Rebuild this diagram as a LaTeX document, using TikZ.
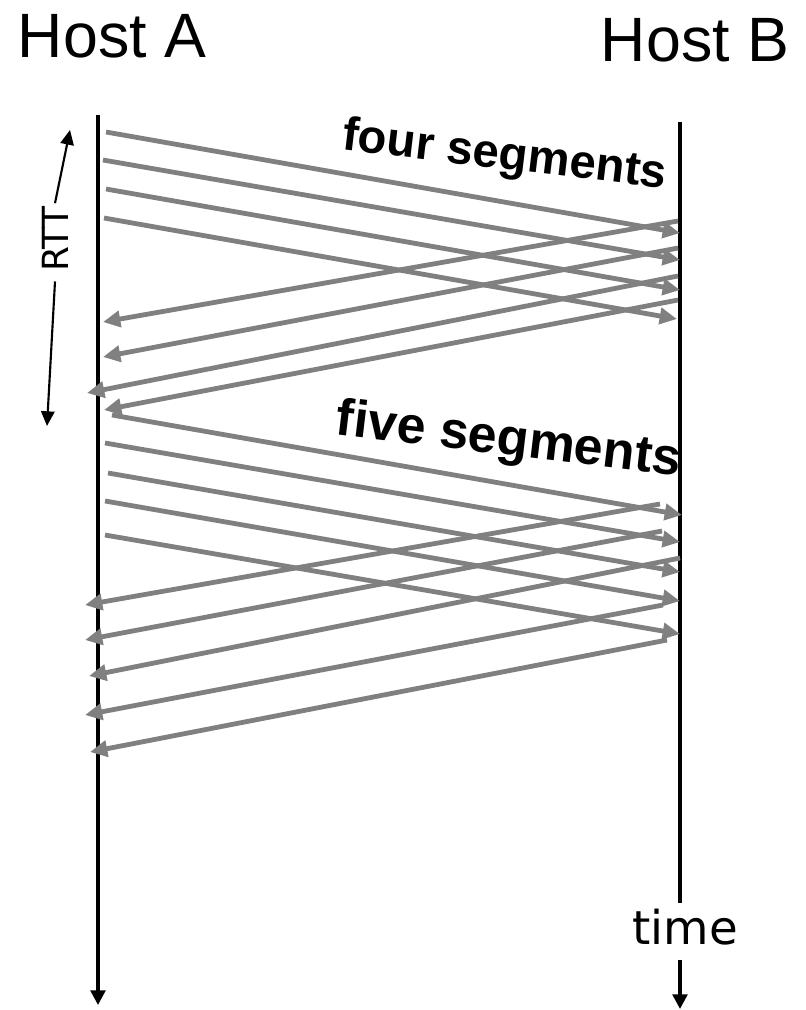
\documentclass[tikz,border=0pt]{standalone}
\usepackage{fontspec}
\setmainfont{Liberation Sans}
\newfontfamily\djv{DejaVu Sans}
\usetikzlibrary{arrows.meta}
\begin{document}
\begin{tikzpicture}[x=0.75pt,y=-0.75pt,
  timeline/.style={line width=2.6pt,black},
  timearrow/.style={timeline,-{Triangle[length=11pt,width=11pt]}},
  msg/.style={line width=3.6pt,color={rgb,255:red,128;green,128;blue,128},-{Triangle[length=13pt,width=12pt]}},
  hostlabel/.style={font=\fontsize{47}{50}\selectfont,inner sep=0pt},
  seglabel/.style={font=\bfseries\fontsize{#1}{40}\selectfont,inner sep=0pt,anchor=base,rotate=-6.8},
  rttarrow/.style={line width=1.6pt,-{Triangle[length=11pt,width=10pt]}}]
\useasboundingbox (0,0) rectangle (806,1010);
% hosts
\node[hostlabel] (hostA) at (112,36) {Host A};
\node[hostlabel] (hostB) at (695,40) {Host B};
% time lines
\coordinate (Atop) at (98,115);
\coordinate (Abot) at (98,1005);
\coordinate (Btop) at (680,122);
\coordinate (Bbot) at (680,1009);
\node[font=\djv\fontsize{35}{40}\selectfont,inner sep=0pt] (time) at (685,927) {time};
\draw[timearrow] (Atop) -- (Abot);
\draw[timeline] (Btop) -- (680,903) coordinate (Bgap1);
\draw[timearrow] (680,960) coordinate (Bgap2) -- (Bbot);
% labels
\node[seglabel=35.5] (four) at (503,169) {four segments};
\node[seglabel=39] (five) at (507,455) {five segments};
% four segments
\foreach \n/\xa/\ya/\xb/\yb in {1/106/132/680/233, 2/103/160/680/260, 3/106/189/680/290, 4/104/218/677/319}{
  \coordinate (s\n a) at (\xa,\ya);
  \coordinate (s\n b) at (\xb,\yb);
  \draw[msg] (s\n a) -- (s\n b);
}
% four acks
\foreach \n/\xa/\ya/\xb/\yb in {1/678/221/103/322, 2/678/248/103/357, 3/678/276/87/393, 4/678/300/104/410}{
  \coordinate (k\n a) at (\xa,\ya);
  \coordinate (k\n b) at (\xb,\yb);
  \draw[msg] (k\n a) -- (k\n b);
}
% five segments
\foreach \n/\xa/\ya/\xb/\yb in {1/112/415/682/515, 2/105/443/680/542, 3/108/473/680/572, 4/105/501/680/601, 5/105/535/680/634}{
  \coordinate (t\n a) at (\xa,\ya);
  \coordinate (t\n b) at (\xb,\yb);
  \draw[msg] (t\n a) -- (t\n b);
}
% five acks
\foreach \n/\xa/\ya/\xb/\yb in {1/660/504/85/605, 2/662/531/85/640, 3/680/558/89/676, 4/663/605/85/715, 5/667/640/90/752}{
  \coordinate (u\n a) at (\xa,\ya);
  \coordinate (u\n b) at (\xb,\yb);
  \draw[msg] (u\n a) -- (u\n b);
}
% RTT
\node[font=\djv\fontsize{27}{30}\selectfont,rotate=90,inner sep=3pt] (rtt) at (55,239) {RTT};
\coordinate (rtttop) at (70,130);
\coordinate (rttbot) at (47,426);
\draw[rttarrow] ([yshift=-1pt]rtt.east) -- (rtttop);
\draw[rttarrow] ([yshift=-4pt]rtt.west) -- (rttbot);
\end{tikzpicture}
\end{document}
